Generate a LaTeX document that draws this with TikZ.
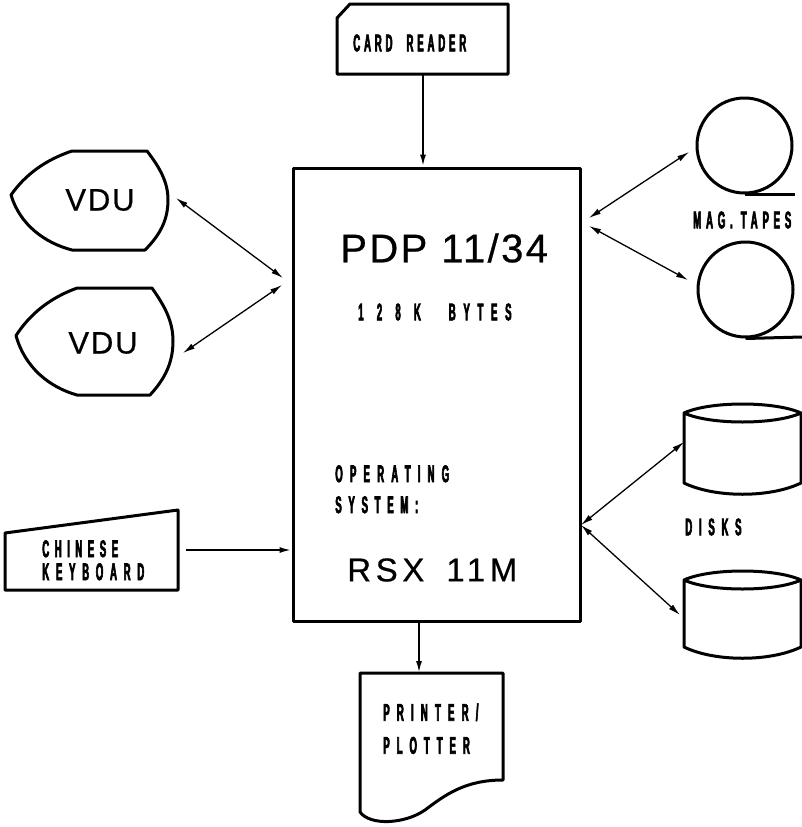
\documentclass[tikz,border=0pt]{standalone}
\usepackage{fontspec}
\usetikzlibrary{positioning,arrows.meta}
\newfontfamily\tagfont[FakeStretch=0.4,FakeBold=2.5]{Liberation Sans Bold}
\newfontfamily\bigfont[LetterSpace=6,FakeBold=0.6]{Liberation Sans}
\newcommand{\spaced}[2]{{\addfontfeature{LetterSpace=#1}#2}}
\tikzset{
  box/.style={draw,line width=3pt,line join=round},
  link/.style={line width=1.3pt},
  feed/.style={line width=1.9pt},
  tag/.style={font=\tagfont\fontsize{24}{24}\selectfont,inner sep=0pt,align=left},
  big/.style={font=\bigfont\fontsize{40}{40}\selectfont,inner sep=0pt},
  vduname/.style={big,font=\bigfont\fontsize{31}{31}\selectfont},
}
\newcommand{\newDisk}[3]{% name, corner y, bottom corner y
  \draw[box] (684,#2) .. controls (710,#2-12) and (775,#2-12) .. (801,#2)
    .. controls (775,#2+12) and (710,#2+12) .. (684,#2) -- (684,#3)
    .. controls (715,#3+15) and (770,#3+15) .. (801,#3) -- (801,#2);
  \coordinate (#1) at (684,#2+29);}
\newcommand{\newVdu}[3]{% x shift, y shift, y scale
  \draw[box,shift={(#1,#2)},yscale=#3] (11,195) .. controls (25,175) and (45,160) .. (72,151)
    -- (147,151) .. controls (160,168) and (168,182) .. (168,200)
    .. controls (168,220) and (160,235) .. (145,250) -- (72,250)
    .. controls (45,243) and (20,225) .. (11,195) -- cycle;}
\begin{document}
\begin{tikzpicture}[x=1pt,y=-1pt,>={Latex[length=12pt,width=6pt]},semithick]
  \useasboundingbox (0,0) rectangle (802,827);
  % central machine
  \node[box,minimum width=287pt,minimum height=453pt,inner sep=0pt] (pdp) at (436.5,394.5) {};
  \node[big,anchor=west] (pdpName) at (340,248) {PDP\hspace{14pt}11/34};
  \node[tag,anchor=west] (pdpMem) at (358,312) {\spaced{55}{128K}\hspace{28pt}\spaced{32}{BYTES}};
  \node[tag,anchor=north west] (pdpOs) at (335,465) {\spaced{30}{OPERATING}\\[7pt]\spaced{28}{SYSTEM:}};
  \node[big,anchor=west,font=\bigfont\fontsize{33}{33}\selectfont\addfontfeature{LetterSpace=14}] (pdpRsx) at (347,570) {RSX\hspace{22pt}11M};
  % card reader
  \draw[box] (350,4) -- (508,4) -- (508,74) -- (337,74) -- (337,18) -- cycle;
  \coordinate (cardOut) at (423,74);
  \node[tag,anchor=west] (cardText) at (353,43) {\spaced{16}{CARD}\hspace{14pt}\spaced{16}{READER}};
  \draw[->,feed] (cardOut) -- (cardOut |- pdp.north);
  % printer
  \draw[box] (360,673) -- (503,673) -- (503,780) .. controls (465,780) and (445,795) .. (425,810)
    .. controls (405,824) and (370,826) .. (360,812) -- cycle;
  \coordinate (printerTop) at (419,673);
  \node[tag,anchor=north west] (printerText) at (383,703) {\spaced{30}{PRINTER/}\\[9pt]\spaced{29}{PLOTTER}};
  \draw[->,feed] (printerTop |- pdp.south) -- (printerTop);
  % keyboard
  \draw[box] (5,533) -- (178,510) -- (178,590) -- (5,590) -- cycle;
  \node[tag,anchor=north west] (kbdText) at (42,540) {\spaced{23}{CHINESE}\\[-1pt]\spaced{28}{KEYBOARD}};
  \coordinate (kbdOut) at (186,550);
  \draw[->,feed] (kbdOut) -- (kbdOut -| pdp.west);
  % terminals
  \newVdu{0}{0}{1}
  \newVdu{5}{125}{1.08}
  \node[vduname] (vduA) at (100,200) {VDU};
  \node[vduname] (vduB) at (103,343) {VDU};
  \coordinate (vduAport) at (176,198);
  \coordinate (vduBport) at (183,353);
  \coordinate (pdpVduA) at (283,278);
  \coordinate (pdpVduB) at (282,285);
  \draw[<->,link] (vduAport) -- (pdpVduA);
  \draw[<->,link] (vduBport) -- (pdpVduB);
  % tapes
  \node[box,circle,minimum size=95pt,inner sep=0pt] (tapeA) at (744.5,145.5) {};
  \node[box,circle,minimum size=95pt,inner sep=0pt] (tapeB) at (745.5,289.5) {};
  \draw[box] (tapeA.south) -- ++(50,0);
  \draw[box] (tapeB.south) -- (802,337);
  \node[tag,anchor=west] (tapeText) at (693,220) {\spaced{20}{MAG.}\hspace{8pt}\spaced{20}{TAPES}};
  \coordinate (tapeAport) at (689,152);
  \coordinate (tapeBport) at (688,280);
  \coordinate (pdpTapeA) at (589,218);
  \coordinate (pdpTapeB) at (589,226);
  \draw[<->,link] (pdpTapeA) -- (tapeAport);
  \draw[<->,link] (pdpTapeB) -- (tapeBport);
  % disks
  \newDisk{diskA}{413}{483}
  \newDisk{diskB}{580}{647}
  \node[tag,anchor=west] (diskText) at (685,527) {\spaced{28}{DISKS}};
  \coordinate (pdpDisk) at (581,525);
  \coordinate (diskBport) at (680,615);
  \draw[<->,link] (pdpDisk) -- (diskA);
  \draw[<->,link] (pdpDisk) -- (diskBport);
\end{tikzpicture}
\end{document}
